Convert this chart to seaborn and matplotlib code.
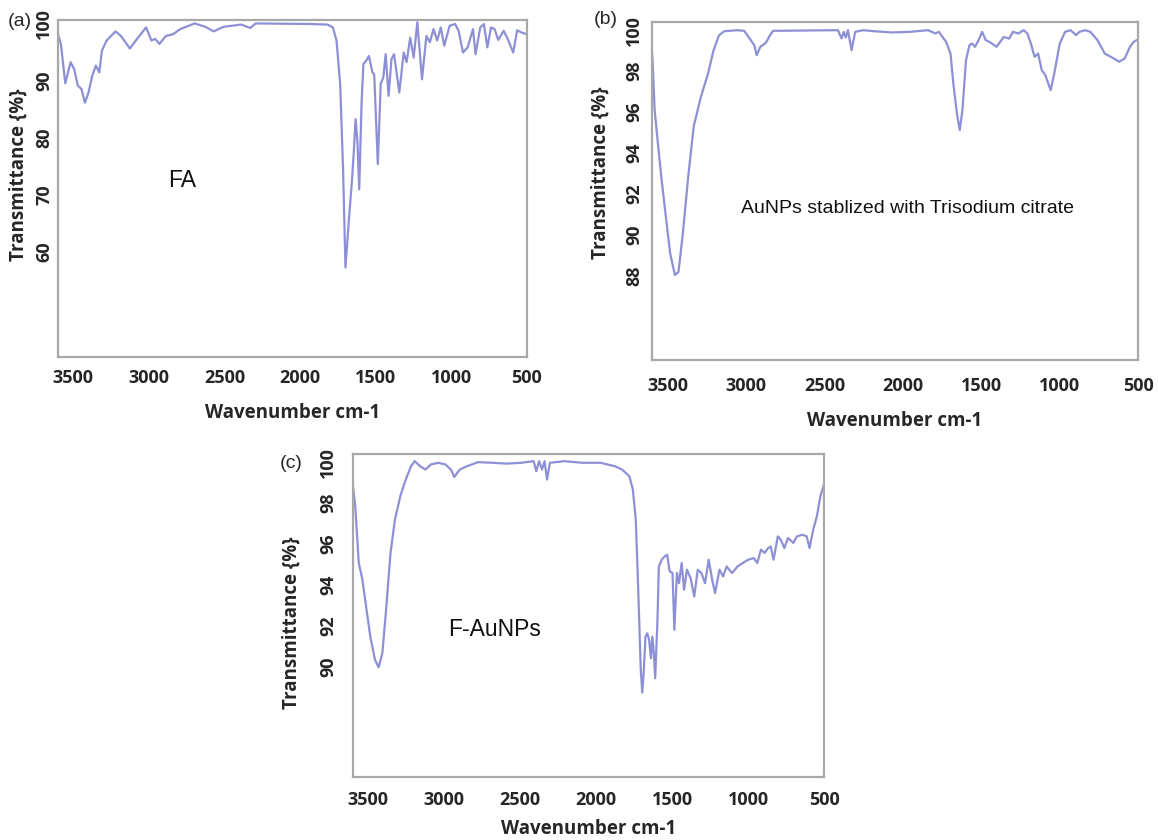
import numpy as np
import pandas as pd
import matplotlib
matplotlib.use("Agg")
import matplotlib.pyplot as plt
import seaborn as sns

# ---------------- data ----------------
# (a) FA
wn_a = [3600, 3581, 3552, 3517, 3493, 3469, 3445, 3422, 3398, 3374, 3350, 3327, 3310, 3279,
        3220, 3184, 3125, 3077, 3018, 2982, 2958, 2930, 2887, 2840, 2792, 2697, 2626, 2571,
        2507, 2389, 2329, 2294, 1937, 1818, 1783, 1759, 1735, 1716, 1700, 1676, 1657, 1645,
        1633, 1621, 1609, 1593, 1581, 1562, 1545, 1522, 1510, 1486, 1467, 1450, 1434, 1415,
        1396, 1379, 1344, 1315, 1296, 1272, 1249, 1225, 1194, 1165, 1142, 1118, 1094, 1070,
        1047, 1011, 975, 952, 923, 892, 857, 840, 809, 785, 762, 738, 714, 690, 655, 631,
        591, 565, 536, 500]
t_a = [98.1, 96.4, 89.5, 93.2, 92.0, 89.1, 88.5, 86.1, 87.9, 90.8, 92.6, 91.4, 95.2, 97.0,
       98.6, 97.8, 95.6, 97.3, 99.3, 97.0, 97.3, 96.4, 97.8, 98.1, 99.0, 100.0, 99.4, 98.6,
       99.4, 99.8, 99.2, 100.0, 99.9, 99.8, 99.3, 97.0, 89.4, 74.7, 57.2, 66.0, 72.4, 77.4,
       83.2, 79.4, 70.9, 86.4, 92.9, 93.5, 94.3, 91.4, 91.1, 75.3, 89.4, 90.5, 94.6, 87.3,
       93.7, 94.6, 87.9, 94.9, 93.2, 97.5, 94.0, 100.2, 90.2, 97.8, 96.7, 99.0, 97.0, 99.3,
       96.1, 99.6, 99.9, 98.7, 94.9, 95.8, 99.0, 94.6, 99.3, 99.9, 95.8, 99.3, 99.0, 97.1,
       98.7, 97.5, 94.9, 98.8, 98.4, 98.1]

# (b) AuNPs stabilized with trisodium citrate
wn_b = [3600, 3597, 3583, 3564, 3541, 3514, 3484, 3454, 3431, 3403, 3369, 3334, 3288, 3242,
        3208, 3173, 3139, 3058, 3012, 2978, 2948, 2932, 2909, 2874, 2851, 2828, 2414, 2391,
        2377, 2364, 2350, 2327, 2304, 2253, 2184, 2069, 1954, 1839, 1793, 1770, 1747, 1724,
        1696, 1678, 1655, 1637, 1620, 1597, 1575, 1558, 1540, 1517, 1494, 1471, 1448, 1402,
        1356, 1321, 1298, 1264, 1229, 1206, 1183, 1160, 1137, 1114, 1091, 1057, 1034, 999,
        965, 930, 896, 873, 838, 804, 758, 712, 666, 620, 585, 551, 528, 500]
t_b = [98.9, 98.6, 96.1, 94.6, 92.85, 91.05, 89.1, 88.05, 88.2, 90.1, 92.85, 95.3, 96.75, 97.9,
       99.0, 99.75, 99.95, 100.0, 99.97, 99.6, 99.27, 98.78, 99.19, 99.38, 99.7, 99.97, 100.0, 99.6,
       99.92, 99.64, 100.0, 99.02, 99.92, 100.0, 99.95, 99.89, 99.92, 100.0, 99.84, 99.92, 99.67, 99.43,
       98.86, 97.4, 95.93, 95.12, 96.1, 98.54, 99.27, 99.35, 99.19, 99.51, 99.92, 99.51, 99.43, 99.19,
       99.67, 99.59, 99.92, 99.84, 100.0, 99.84, 99.35, 98.7, 98.86, 98.05, 97.8, 97.07, 97.89, 99.35,
       99.92, 100.0, 99.76, 99.92, 100.0, 99.92, 99.51, 98.86, 98.67, 98.46, 98.62, 99.19, 99.43, 99.55]

# (c) F-AuNPs
wn_c = [3600, 3585, 3562, 3538, 3514, 3486, 3455, 3431, 3407, 3384, 3353, 3324, 3289, 3253,
        3218, 3194, 3158, 3123, 3087, 3040, 2992, 2956, 2933, 2897, 2850, 2778, 2683, 2589,
        2494, 2411, 2394, 2375, 2356, 2339, 2323, 2304, 2209, 2090, 1971, 1876, 1829, 1781,
        1758, 1739, 1727, 1715, 1706, 1696, 1687, 1675, 1663, 1651, 1639, 1630, 1620, 1611,
        1596, 1587, 1568, 1549, 1532, 1516, 1497, 1485, 1468, 1454, 1437, 1421, 1402, 1378,
        1354, 1331, 1307, 1283, 1259, 1236, 1217, 1188, 1164, 1141, 1105, 1069, 1034, 998,
        963, 939, 915, 891, 868, 851, 832, 804, 785, 761, 737, 702, 678, 642, 614, 595,
        571, 547, 524, 500]
t_c = [98.82, 97.84, 95.07, 94.25, 92.94, 91.47, 90.33, 89.97, 90.65, 92.61, 95.56, 97.19, 98.33, 99.15,
       99.8, 100.05, 99.8, 99.64, 99.89, 99.97, 99.89, 99.64, 99.28, 99.64, 99.8, 100.0, 99.97, 99.93,
       99.97, 100.05, 99.56, 100.05, 99.64, 100.05, 99.15, 99.97, 100.05, 99.97, 99.97, 99.8, 99.64, 99.31,
       98.66, 97.19, 94.74, 91.96, 89.84, 88.73, 89.67, 91.47, 91.63, 91.31, 90.41, 91.47, 90.65, 89.43,
       92.29, 94.9, 95.23, 95.39, 95.47, 94.66, 94.58, 91.8, 94.58, 94.08, 95.07, 93.76, 94.74, 94.33,
       93.43, 94.74, 94.58, 94.08, 95.23, 94.25, 93.59, 94.74, 94.41, 94.9, 94.58, 94.9, 95.07, 95.23,
       95.31, 95.07, 95.72, 95.56, 95.8, 95.88, 95.23, 96.37, 96.21, 95.8, 96.29, 96.05, 96.37, 96.45, 96.37, 95.8,
       96.7, 97.35, 98.33, 98.91]

x_ticks = [3500, 3000, 2500, 2000, 1500, 1000, 500]
y_ticks_a = [60, 70, 80, 90, 100]
y_ticks_bc = [88, 90, 92, 94, 96, 98, 100]
y_ticks_c = [90, 92, 94, 96, 98, 100]

panel_tags = ["(a)", "(b)", "(c)"]
sample_names = ["FA", "AuNPs stablized with Trisodium citrate", "F-AuNPs"]
x_title = "Wavenumber cm-1"
y_title = "Transmittance {%}"

# ---------------- style ----------------
sns.set_style("white")
plt.rcParams['font.family'] = ['Open Sans', 'DejaVu Sans']

LINE = "#8e90d6"
SPINE = "#a8a8a8"
W, H = 1158, 840

fig = plt.figure(figsize=(W / 100, H / 100), dpi=100)


def px_axes(left, top, right, bottom):
    return fig.add_axes([left / W, 1 - bottom / H, (right - left) / W, (bottom - top) / H])


ax_a = px_axes(58, 20, 527, 357)
ax_b = px_axes(652, 22, 1138, 360)
ax_c = px_axes(353, 454, 824, 777)

panels = [
    dict(ax=ax_a, wn=wn_a, t=t_a, ylim=(41.5, 100.6), yt=y_ticks_a, ypad=-0.5, xpad=4.5,
         xlab_y=-0.166, ylab_x=-0.083, ylab_y=0.54, ann=(2780, 72.4), ann_fs=16.5),
    dict(ax=ax_b, wn=wn_b, t=t_b, ylim=(83.9, 100.4), yt=y_ticks_bc, ypad=2.5, xpad=8,
         xlab_y=-0.18, ylab_x=-0.105, ylab_y=0.553, ann=(1971, 91.3), ann_fs=14),
    dict(ax=ax_c, wn=wn_c, t=t_c, ylim=(84.6, 100.4), yt=y_ticks_c, ypad=7.5, xpad=6,
         xlab_y=-0.16, ylab_x=-0.13, ylab_y=0.477, ann=(2669, 91.8), ann_fs=16.5),
]

for p, tag, name in zip(panels, panel_tags, sample_names):
    ax = p["ax"]
    df = pd.DataFrame({"wn": p["wn"], "T": p["t"]})
    sns.lineplot(data=df, x="wn", y="T", ax=ax, color=LINE, linewidth=1.6,
                 sort=False, estimator=None)
    ax.set_xlim(3600, 500)
    ax.set_ylim(*p["ylim"])
    ax.set_xticks(x_ticks)
    ax.set_xticklabels([str(v) for v in x_ticks], fontsize=13, fontweight="bold")
    ax.set_yticks(p["yt"])
    ax.set_yticklabels([str(v) for v in p["yt"]], fontsize=13, fontweight="bold",
                       rotation=90, va="center")
    ax.tick_params(axis="both", direction="out", length=4, width=1.2, color=SPINE)
    ax.tick_params(axis="x", pad=p["xpad"])
    ax.tick_params(axis="y", pad=p["ypad"])
    for s in ax.spines.values():
        s.set_visible(True)
        s.set_color(SPINE)
        s.set_linewidth(1.6)
    ax.set_xlabel(x_title, fontsize=13.5, fontweight="bold")
    ax.set_ylabel(y_title, fontsize=13.5, fontweight="bold")
    ax.xaxis.set_label_coords(0.5, p["xlab_y"])
    ax.yaxis.set_label_coords(p["ylab_x"], p["ylab_y"])
    ax.xaxis.label.set_va("center")
    ax.yaxis.label.set_va("center")
    ax.text(p["ann"][0], p["ann"][1], name, fontsize=p["ann_fs"], family="Liberation Sans",
            ha="center", va="center", color="#111111")

fig.text(20 / W, 1 - 22 / H, panel_tags[0], fontsize=14, family="Liberation Sans",
         ha="center", va="center")
fig.text(606 / W, 1 - 20 / H, panel_tags[1], fontsize=14, family="Liberation Sans",
         ha="center", va="center")
fig.text(291 / W, 1 - 463 / H, panel_tags[2], fontsize=14, family="Liberation Sans",
         ha="center", va="center")

fig.savefig("out.png", dpi=100, facecolor="white")
